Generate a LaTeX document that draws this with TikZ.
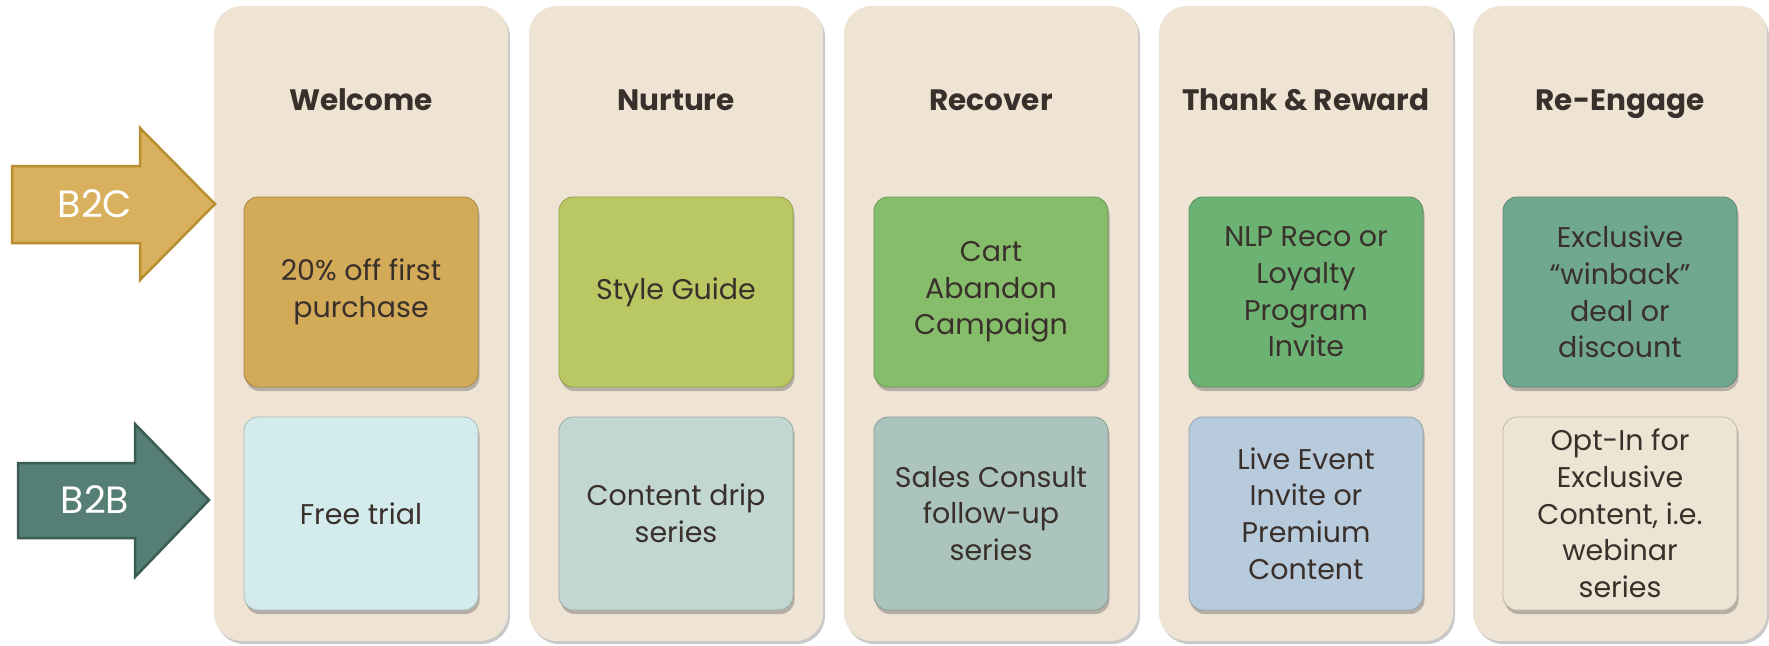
\documentclass[tikz,border=0pt]{standalone}
\usepackage{fontspec}
\setmainfont{Poppins}
\usetikzlibrary{shadows,positioning}
\definecolor{panelc}{HTML}{EFE4D4}
\definecolor{txtc}{HTML}{3A302B}
\definecolor{ta}{HTML}{D2AA58}
\definecolor{tb}{HTML}{B9C862}
\definecolor{tc}{HTML}{86BD6A}
\definecolor{td}{HTML}{6CB373}
\definecolor{te}{HTML}{6FA78F}
\definecolor{ba}{HTML}{D3EBED}
\definecolor{bb}{HTML}{C2D6D2}
\definecolor{bc}{HTML}{ABC4BD}
\definecolor{bd}{HTML}{B8CBDD}
\definecolor{be}{HTML}{EDE4D4}
\definecolor{goldf}{HTML}{D9B15E}
\definecolor{golds}{HTML}{B88F2E}
\definecolor{tealf}{HTML}{557F74}
\definecolor{teals}{HTML}{3B5C52}
\tikzset{
  panel/.style={rounded corners=28pt, fill=panelc, minimum width=294pt, minimum height=635pt,
    inner sep=0pt, outer sep=0pt,
    drop shadow={opacity=0.35, shadow xshift=2pt, shadow yshift=-3pt, fill=black!60}},
  header/.style={anchor=base, font=\fontsize{29.5}{32}\selectfont\bfseries, text=txtc},
  cbox/.style={rounded corners=14pt, fill=#1, draw=#1!80!black, line width=0.8pt,
    minimum width=234pt, inner sep=0pt, outer sep=0pt,
    align=center, text=txtc, font=\fontsize{28.5}{36.7}\selectfont,
    drop shadow={opacity=0.35, shadow xshift=1.5pt, shadow yshift=-4pt, fill=black!70}},
  topbox/.style={cbox=#1, minimum height=190pt},
  botbox/.style={cbox=#1, minimum height=193pt},
  arrowlabel/.style={text=white, font=\fontsize{38}{40}\selectfont},
}
\begin{document}
\begin{tikzpicture}[x=1pt,y=-1pt]
\useasboundingbox (0,0) rectangle (1769,645);
\fill[white] (0,0) rectangle (1769,645);

% panels
\node[panel] (p1) at (361,323.5) {};
\node[panel] (p2) at (676,323.5) {};
\node[panel] (p3) at (991,323.5) {};
\node[panel] (p4) at (1306,323.5) {};
\node[panel] (p5) at (1620,323.5) {};

% headers
\node[header] (h1) at (361,110) {Welcome};
\node[header] (h2) at (676,110) {Nurture};
\node[header] (h3) at (991,110) {Recover};
\node[header] (h4) at (1306,110) {Thank \& Reward};
\node[header] (h5) at (1620,110) {Re-Engage};

% top row
\node[topbox=ta] (t1) at (361,292) {20\% off first\\purchase};
\node[topbox=tb] (t2) at (676,292) {Style Guide};
\node[topbox=tc] (t3) at (991,292) {Cart\\Abandon\\Campaign};
\node[topbox=td] (t4) at (1306,292) {NLP Reco or\\Loyalty\\Program\\Invite};
\node[topbox=te] (t5) at (1620,292) {Exclusive\\“winback”\\deal or\\discount};

% bottom row
\node[botbox=ba] (b1) at (361,513.5) {Free trial};
\node[botbox=bb] (b2) at (676,513.5) {Content drip\\series};
\node[botbox=bc] (b3) at (991,513.5) {Sales Consult\\follow-up\\series};
\node[botbox=bd] (b4) at (1306,513.5) {Live Event\\Invite or\\Premium\\Content};
\node[botbox=be] (b5) at (1620,513.5) {Opt-In for\\Exclusive\\Content, i.e.\\webinar\\series};

% arrows
\draw[fill=goldf, draw=golds, line width=2.5pt, line join=miter]
  (12,166) -- (140,166) -- (140,128) -- (215,204) -- (140,280) -- (140,243) -- (12,243) -- cycle;
\node[arrowlabel] (b2c) at (95,204) {B2C};
\draw[fill=tealf, draw=teals, line width=2.5pt, line join=miter]
  (18,463) -- (135,463) -- (135,424) -- (209,500) -- (135,577) -- (135,538) -- (18,538) -- cycle;
\node[arrowlabel] (b2b) at (95,500) {B2B};
\end{tikzpicture}
\end{document}
